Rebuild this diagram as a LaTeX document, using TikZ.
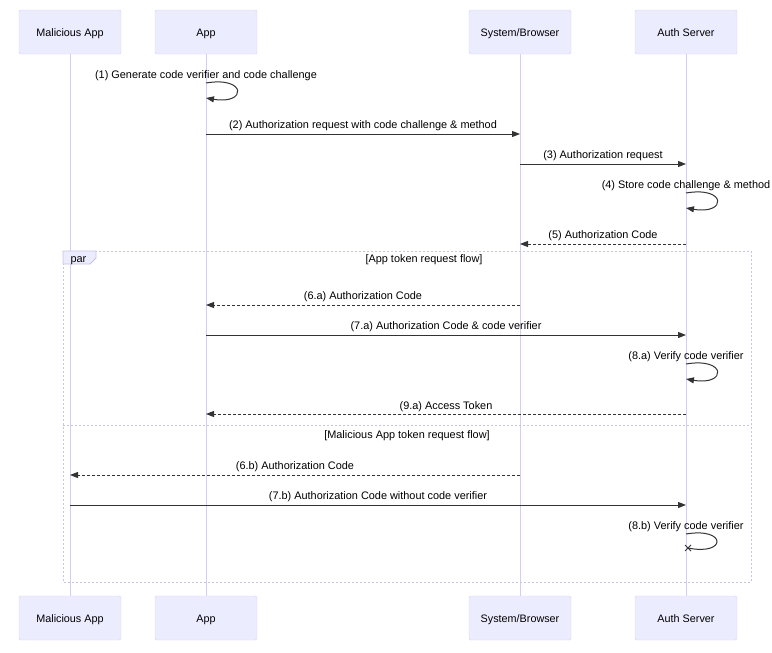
\documentclass[tikz,border=0pt]{standalone}
\usepackage{fontspec}
\setmainfont{Liberation Sans}
\usetikzlibrary{arrows.meta,calc}
\definecolor{actfill}{HTML}{ECECFF}
\definecolor{actdraw}{HTML}{D6D0F2}
\definecolor{lifeln}{HTML}{D4CCF5}
\definecolor{msgc}{HTML}{333333}
\definecolor{boxc}{HTML}{C8C4E0}
\tikzset{
  actor/.style={draw=actdraw, fill=actfill, rounded corners=1.5pt, minimum width=102pt, minimum height=44pt, inner sep=0pt, font=\fontsize{10.8}{13}\selectfont, text=black, text height=9.4pt, text depth=0pt},
  life/.style={draw=lifeln, line width=1pt},
  msg/.style={draw=msgc, line width=1pt, -{Triangle[length=8pt,width=6pt]}},
  reply/.style={msg, dash pattern=on 3pt off 2pt},
  lbl/.style={font=\fontsize{10.9}{12}\selectfont, text=black, inner sep=0pt, anchor=base},
  loopln/.style={draw=msgc, line width=1pt},
  frame/.style={draw=boxc, line width=1pt, dash pattern=on 2pt off 2pt},
}
\begin{document}
\begin{tikzpicture}[x=1pt,y=-1pt]
\useasboundingbox (0,0) rectangle (772,653);
% lifelines
\foreach \n/\x in {m/70,a/206,s/520,v/686}{
  \coordinate (\n t) at (\x,54);
  \coordinate (\n b) at (\x,596);
  \draw[life] (\n t) -- (\n b);
}
% actors
\node[actor] (mt) at (70,32) {Malicious App};
\node[actor] (at) at (206,32) {App};
\node[actor] (st) at (520,32) {System/Browser};
\node[actor] (vt) at (686,32) {Auth Server};
\node[actor] (mb) at (70,618) {Malicious App};
\node[actor] (ab) at (206,618) {App};
\node[actor] (sb) at (520,618) {System/Browser};
\node[actor] (vb) at (686,618) {Auth Server};

% par frame
\draw[frame] (63,251) rectangle (751,582);
\draw[frame] (63,425) -- (751,425);
\draw[draw=boxc, fill=actfill, line width=0.8pt] (63,251) -- (96,251) -- (96,258) -- (90,264) -- (63,264) -- cycle;
\node[lbl] (parl) at (78.5,262) {par};
\node[lbl] (t1) at (424,262) {[App token request flow]};
\node[lbl] (t2) at (407,438) {[Malicious App token request flow]};

% messages
% (1)
\coordinate (a1) at (206,83); \coordinate (a1e) at (206,98);
\node[lbl] (l1) at (206,78) {(1) Generate code verifier and code challenge};
\draw[msg] (a1) .. controls (247,76) and (247,105) .. (a1e);
% (2)
\coordinate (a2) at (206,134); \coordinate (s2) at (520,134);
\node[lbl] (l2) at (363,128) {(2) Authorization request with code challenge \& method};
\draw[msg] (a2) -- (s2);
% (3)
\coordinate (s3) at (520,164); \coordinate (v3) at (686,164);
\node[lbl] (l3) at (603,158) {(3) Authorization request};
\draw[msg] (s3) -- (v3);
% (4)
\coordinate (v4) at (686,193); \coordinate (v4e) at (686,208);
\node[lbl] (l4) at (686,188) {(4) Store code challenge \& method};
\draw[msg] (v4) .. controls (727,186) and (727,215) .. (v4e);
% (5)
\coordinate (v5) at (686,244); \coordinate (s5) at (520,244);
\node[lbl] (l5) at (603,238) {(5) Authorization Code};
\draw[reply] (v5) -- (s5);
% (6.a)
\coordinate (s6) at (520,305); \coordinate (a6) at (206,305);
\node[lbl] (l6) at (363,299) {(6.a) Authorization Code};
\draw[reply] (s6) -- (a6);
% (7.a)
\coordinate (a7) at (206,335); \coordinate (v7) at (686,335);
\node[lbl] (l7) at (446,329) {(7.a) Authorization Code \& code verifier};
\draw[msg] (a7) -- (v7);
% (8.a)
\coordinate (v8) at (686,364); \coordinate (v8e) at (686,379);
\node[lbl] (l8) at (686,359) {(8.a) Verify code verifier};
\draw[msg] (v8) .. controls (727,357) and (727,386) .. (v8e);
% (9.a)
\coordinate (v9) at (686,414); \coordinate (a9) at (206,414);
\node[lbl] (l9) at (446,409) {(9.a) Access Token};
\draw[reply] (v9) -- (a9);
% (6.b)
\coordinate (s6b) at (520,475); \coordinate (m6b) at (70,475);
\node[lbl] (l6b) at (295,469) {(6.b) Authorization Code};
\draw[reply] (s6b) -- (m6b);
% (7.b)
\coordinate (m7b) at (70,505); \coordinate (v7b) at (686,505);
\node[lbl] (l7b) at (378,499) {(7.b) Authorization Code without code verifier};
\draw[msg] (m7b) -- (v7b);
% (8.b)
\coordinate (v8b) at (686,534); \coordinate (v8be) at (688,548);
\node[lbl] (l8b) at (686,529) {(8.b) Verify code verifier};
\draw[loopln] (v8b) .. controls (727,527) and (727,556) .. (v8be);
\draw[msgc, line width=1pt] ($(v8be)+(-3,-3)$) -- ($(v8be)+(3,3)$) ($(v8be)+(-3,3)$) -- ($(v8be)+(3,-3)$);
\end{tikzpicture}
\end{document}
